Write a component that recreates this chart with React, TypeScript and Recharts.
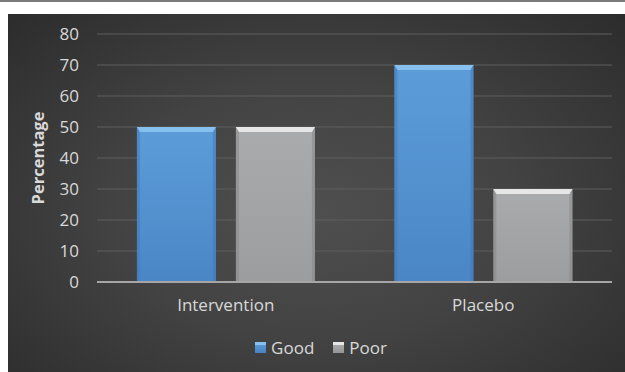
import React from 'react';
import { BarChart, Bar, XAxis, YAxis, CartesianGrid, Legend } from 'recharts';

const categories = ['Intervention', 'Placebo'];
const goodValues = [50, 70];
const poorValues = [50, 30];
const yTicks = [0, 10, 20, 30, 40, 50, 60, 70, 80];

const data = categories.map((c, i) => ({ name: c, Good: goodValues[i], Poor: poorValues[i] }));

const FONT = 'Open Sans, Liberation Sans, sans-serif';

const palette: Record<string, { body: string; dark: string; light: string; side: string }> = {
  good: { body: '#5898d5', dark: '#4682c2', light: '#86c0ee', side: '#3f78b6' },
  poor: { body: '#a7a8aa', dark: '#939496', light: '#e6e6e6', side: '#858688' },
};

const BevelBar = (props: any) => {
  const { x, y, width, height, kind } = props;
  if (!height || height <= 0) return null;
  const p = palette[kind];
  const b = 5;
  const s = 3;
  return (
    <g>
      <rect x={x} y={y} width={width} height={height} fill={`url(#grad-${kind})`} />
      <rect x={x} y={y} width={s} height={height} fill={p.side} opacity={0.5} />
      <rect x={x + width - s} y={y} width={s} height={height} fill={p.side} opacity={0.5} />
      <polygon
        points={`${x},${y} ${x + width},${y} ${x + width - s},${y + b} ${x + s},${y + b}`}
        fill={p.light}
      />
    </g>
  );
};

const LegendContent = () => {
  const items = [
    { label: 'Good', kind: 'good' },
    { label: 'Poor', kind: 'poor' },
  ];
  return (
    <div style={{ display: 'flex', justifyContent: 'center', alignItems: 'center', height: 24, fontFamily: FONT, fontSize: 17, color: '#d9d9d9', paddingLeft: 22 }}>
      {items.map((it, i) => {
        const p = palette[it.kind];
        return (
          <div key={it.label} style={{ display: 'flex', alignItems: 'center', marginLeft: i ? 19 : 0 }}>
            <div
              style={{
                width: 11,
                height: 11,
                background: `linear-gradient(${p.light} 0px, ${p.light} 3px, ${p.body} 3px, ${p.dark} 11px)`,
                marginRight: 5,
              }}
            />
            <span>{it.label}</span>
          </div>
        );
      })}
    </div>
  );
};

export default function App() {
  return (
    <div style={{ position: 'absolute', left: 0, top: 0, width: 625, height: 372, background: '#ffffff', overflow: 'hidden' }}>
      <div style={{ position: 'absolute', left: 0, top: 0, width: 625, height: 2, background: '#7a7a7a' }} />
      <div
        style={{
          position: 'absolute',
          left: 8,
          top: 14,
          width: 617,
          height: 358,
          background: 'radial-gradient(ellipse at 50% 55%, #4f4f4f 0%, #434343 45%, #2c2c2c 100%)',
        }}
      >
        <BarChart
          width={617}
          height={358}
          data={data}
          margin={{ top: 20, right: 13, left: 0, bottom: 13 }}
          barCategoryGap="15.5%"
          barGap={20}
        >
          <defs>
            <linearGradient id="grad-good" x1="0" y1="0" x2="0" y2="1">
              <stop offset="0%" stopColor="#5c9dd9" />
              <stop offset="100%" stopColor="#4a86c6" />
            </linearGradient>
            <linearGradient id="grad-poor" x1="0" y1="0" x2="0" y2="1">
              <stop offset="0%" stopColor="#aaabad" />
              <stop offset="100%" stopColor="#9c9d9f" />
            </linearGradient>
          </defs>
          <CartesianGrid vertical={false} stroke="#5e5e5e" strokeWidth={1} />
          <XAxis
            dataKey="name"
            height={53}
            axisLine={{ stroke: '#a6a6a6', strokeWidth: 2 }}
            tickLine={false}
            tickMargin={11}
            tick={{ fill: '#d9d9d9', fontSize: 17, fontFamily: FONT }}
          />
          <YAxis
            width={89}
            domain={[0, 80]}
            ticks={yTicks}
            axisLine={false}
            tickLine={false}
            tickMargin={12}
            tick={{ fill: '#d9d9d9', fontSize: 17, fontFamily: FONT }}
            label={{ value: 'Percentage', angle: -90, position: 'center', dx: -14, fill: '#d9d9d9', fontSize: 16.5, fontWeight: 'bold', fontFamily: FONT }}
          />
          <Legend verticalAlign="bottom" height={24} content={<LegendContent />} />
          <Bar dataKey="Good" isAnimationActive={false} shape={(p: any) => <BevelBar {...p} kind="good" />} />
          <Bar dataKey="Poor" isAnimationActive={false} shape={(p: any) => <BevelBar {...p} kind="poor" />} />
        </BarChart>
      </div>
    </div>
  );
}
